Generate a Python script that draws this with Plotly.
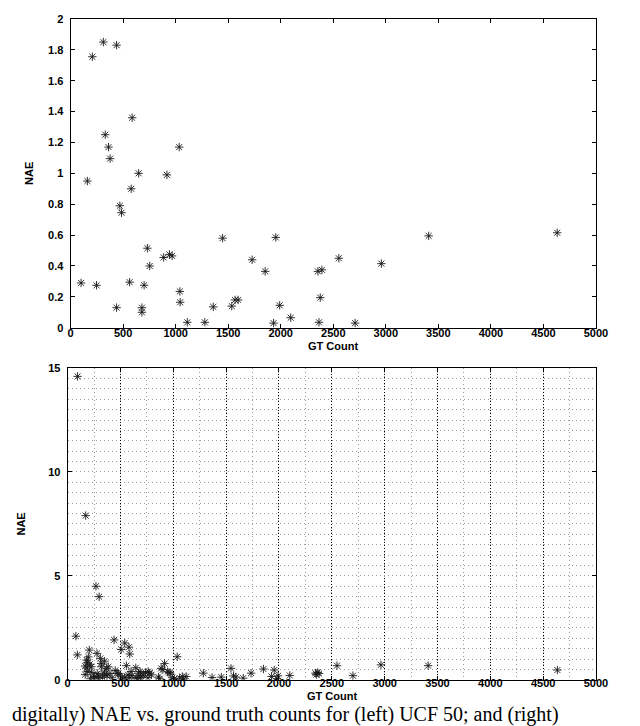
import plotly.graph_objects as go

# ---- Top panel data (UCF 50): GT count vs NAE ----
top_gt = [100, 160, 207, 247, 312, 330, 361, 376, 438, 438, 469, 485, 562, 577, 586,
          648, 679, 679, 700, 731, 753, 886, 917, 941, 966, 1034, 1040, 1043, 1111,
          1278, 1358, 1447, 1534, 1565, 1595, 1728, 1852, 1932, 1953, 1990, 2095,
          2354, 2392, 2376, 2364, 2553, 2708, 2958, 3408, 4631]
top_nae = [0.29, 0.95, 1.755, 0.275, 1.85, 1.25, 1.17, 1.095, 1.83, 0.13, 0.79, 0.745,
           0.295, 0.90, 1.36, 1.0, 0.13, 0.10, 0.275, 0.515, 0.40, 0.455, 0.99, 0.475,
           0.465, 1.17, 0.235, 0.165, 0.035, 0.035, 0.135, 0.58, 0.14, 0.18, 0.18,
           0.44, 0.365, 0.03, 0.585, 0.145, 0.065, 0.365, 0.375, 0.195, 0.035, 0.45,
           0.03, 0.415, 0.595, 0.615]

# ---- Bottom panel data ----
bot_gt = [94, 171, 268, 298, 78, 92, 205, 196, 278, 310, 440, 507, 540, 580, 588, 556,
          1037, 917, 187, 166, 181, 166, 224, 230, 317, 320, 347, 369, 384, 372, 255,
          295, 470, 501, 572, 587, 645, 670, 694, 648, 737, 777, 793, 860, 885, 946,
          971, 1060, 1085, 1122, 1284, 1367, 1454, 1546, 1570, 1592, 1662, 1736, 1853,
          1955, 1930, 1991, 2102, 2345, 2366, 2354, 2380, 2549, 2700, 2965, 3412, 4635,
          215, 245, 290, 330, 350, 400, 420, 520, 540, 610, 660, 690, 715, 760, 870,
          990, 1010, 1100, 1980, 180, 210, 190, 600, 350, 280, 450, 480, 686, 762,
          901, 960]
bot_nae = [14.6, 7.9, 4.5, 4.0, 2.1, 1.2, 1.43, 1.1, 1.27, 1.03, 1.92, 1.46, 1.77, 1.57,
           1.24, 0.68, 1.11, 0.78, 0.82, 0.66, 0.57, 0.25, 0.63, 0.35, 0.79, 0.63, 0.38,
           0.55, 0.63, 0.19, 0.16, 0.19, 0.32, 0.19, 0.24, 0.09, 0.58, 0.32, 0.19, 0.11,
           0.35, 0.32, 0.24, 0.13, 0.55, 0.39, 0.32, 0.08, 0.16, 0.16, 0.32, 0.11, 0.13,
           0.55, 0.19, 0.13, 0.08, 0.32, 0.52, 0.47, 0.16, 0.19, 0.21, 0.32, 0.35, 0.25,
           0.3, 0.68, 0.2, 0.72, 0.68, 0.47,
           0.05, 0.1, 0.08, 0.12, 0.25, 0.3, 0.1, 0.05, 0.12, 0.2, 0.05, 0.1, 0.22, 0.1,
           0.05, 0.1, 0.05, 0.04, 0.05, 0.95, 0.75, 0.4, 0.4, 0.9, 0.3, 0.45, 0.3, 0.4,
           0.4, 0.49, 0.35]

x_ticks = list(range(0, 5001, 500))
top_y_ticks = [0, 0.2, 0.4, 0.6, 0.8, 1, 1.2, 1.4, 1.6, 1.8, 2]
top_y_labels = ["0", "0.2", "0.4", "0.6", "0.8", "1", "1.2", "1.4", "1.6", "1.8", "2"]
bot_y_ticks = [0, 5, 10, 15]

x_title = "GT Count"
y_title = "NAE"
caption = "digitally) NAE vs. ground truth counts for (left) UCF 50; and (right)"

W, H = 640, 726
tick_font = dict(family="Liberation Sans, Arial, sans-serif", size=11, color="black", weight="bold")
title_font = dict(family="Liberation Sans, Arial, sans-serif", size=11, color="black", weight="bold")

marker = dict(symbol="asterisk-open", size=7, color="#1a1a1a",
              line=dict(color="#1a1a1a", width=0.9))

fig = go.Figure()
fig.add_trace(go.Scatter(x=top_gt, y=top_nae, mode="markers", marker=marker,
                         xaxis="x", yaxis="y", showlegend=False))
fig.add_trace(go.Scatter(x=bot_gt, y=bot_nae, mode="markers", marker=marker,
                         xaxis="x2", yaxis="y2", showlegend=False))

common_axis = dict(showline=True, linecolor="black", linewidth=1, mirror="ticks",
                   ticks="inside", ticklen=4, tickcolor="black", zeroline=False,
                   tickfont=tick_font)

fig.update_layout(
    width=W, height=H,
    margin=dict(l=0, r=0, t=0, b=0),
    paper_bgcolor="white", plot_bgcolor="white",
    xaxis=dict(domain=[61 / W, 599 / W], range=[0, 5000], tickvals=x_ticks,
               showgrid=False, anchor="y", ticklabelstandoff=-5,
               **common_axis),
    yaxis=dict(domain=[1 - 319 / H, 1 - 5 / H], range=[0, 2], tickvals=top_y_ticks,
               ticktext=top_y_labels, showgrid=False, anchor="x",
               ticklabelstandoff=4,
               title=dict(text=y_title, font=title_font, standoff=12),
               **common_axis),
    xaxis2=dict(domain=[58 / W, 599 / W], range=[0, 5000], tickvals=x_ticks,
                anchor="y2", showgrid=True, gridcolor="black", gridwidth=1,
                griddash="1px,2px", ticklabelstandoff=-7,
                minor=dict(dtick=250, tick0=0, showgrid=True, gridcolor="#9a9a9a",
                           griddash="1px,3px", gridwidth=1, ticks=""),
                **common_axis),
    yaxis2=dict(domain=[1 - 677 / H, 1 - 360 / H], range=[0, 15], tickvals=bot_y_ticks,
                anchor="x2", showgrid=True, gridcolor="#9a9a9a", gridwidth=1,
                griddash="1px,3px",
                minor=dict(dtick=0.5, tick0=0, showgrid=True, gridcolor="#9a9a9a",
                           griddash="1px,3px", gridwidth=1, ticks=""),
                ticklabelstandoff=4,
                title=dict(text=y_title, font=title_font, standoff=20),
                **common_axis),
    annotations=[
        dict(text=x_title, xref="paper", yref="paper", x=(61 + 599) / 2 / W,
             y=1 - 338 / H, xanchor="center", yanchor="middle", showarrow=False,
             font=title_font),
        dict(text=x_title, xref="paper", yref="paper", x=(58 + 599) / 2 / W,
             y=1 - 693 / H, xanchor="center", yanchor="middle", showarrow=False,
             font=title_font),
        dict(text=caption, xref="paper", yref="paper", x=-0.002, y=0.0,
             xanchor="left", yanchor="bottom", showarrow=False,
             font=dict(family="Liberation Serif, Times New Roman, serif",
                       size=20, color="black")),
    ],
)

fig.write_html("out.html")
